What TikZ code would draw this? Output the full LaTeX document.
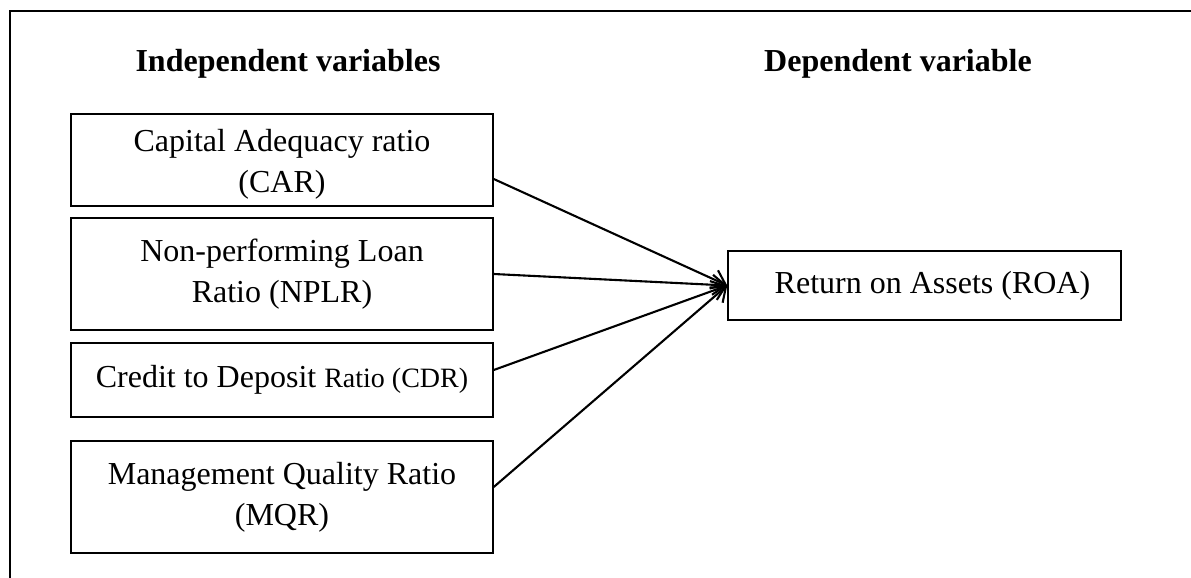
\documentclass[tikz,border=0pt]{standalone}
\usepackage{fontspec}
\setmainfont{Liberation Serif}
\usetikzlibrary{arrows.meta}
\begin{document}
\begin{tikzpicture}[x=0.5pt,y=-0.5pt,
  varbox/.style={draw=black, line width=0.75pt, inner sep=0pt, minimum width=211pt, align=center, font=\fontsize{16}{20.5}\selectfont},
  header/.style={font=\fontsize{16}{19}\selectfont\bfseries, inner sep=0pt},
  link/.style={line width=1.05pt, -{Straight Barb[length=6.5pt,width=10pt,line width=1.05pt]}}]
\useasboundingbox (0,0) rectangle (1191,578);
\coordinate (fbl) at (10,580);
\coordinate (ftl) at (10,11);
\coordinate (ftr) at (1193,11);
\draw[line width=1.1pt] (fbl) -- (ftl) -- (ftr);

\node[header] (hind) at (288,64) {Independent variables};
\node[header] (hdep) at (898,64) {Dependent variable};

\node[varbox, minimum height=46pt] (car) at (282,160) {\rule{0pt}{15pt}Capital Adequacy ratio\\(CAR)};
\node[varbox, minimum height=56pt] (nplr) at (282,274) {Non-performing Loan\\Ratio (NPLR)};
\node[varbox, minimum height=37pt] (cdr) at (282,380) {Credit to Deposit {\fontsize{14}{17}\selectfont Ratio (CDR)}};
\node[varbox, minimum height=56pt] (mqr) at (282,497) {Management Quality Ratio\\(MQR)};
\node[varbox, minimum width=196.5pt, minimum height=34.5pt] (roa) at (924.5,285.5) {\hspace{8pt}Return on Assets (ROA)};

\draw[link] ([yshift=-9.5pt]car.east) -- (roa.west);
\draw[link] (nplr.east) -- (roa.west);
\draw[link] ([yshift=5pt]cdr.east) -- (roa.west);
\draw[link] ([yshift=5pt]mqr.east) -- (roa.west);
\end{tikzpicture}
\end{document}
